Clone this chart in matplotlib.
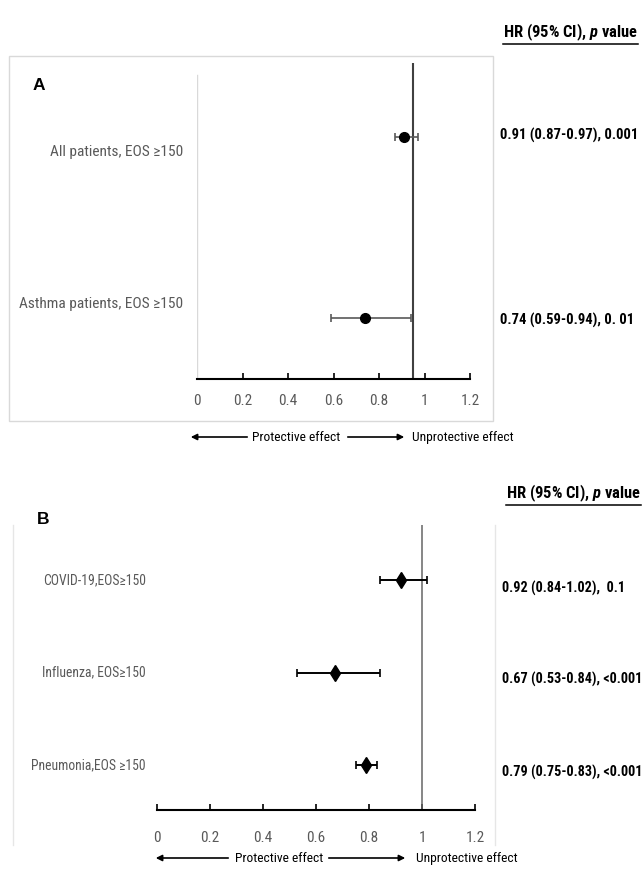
import matplotlib
matplotlib.use("Agg")
import matplotlib.pyplot as plt
from matplotlib import font_manager
from matplotlib.patches import Rectangle, FancyArrowPatch
from matplotlib.lines import Line2D

# panel A data
a_labels = ["All patients, EOS \u2265150", "Asthma patients, EOS \u2265150"]
a_hr = [0.91, 0.74]
a_lo = [0.87, 0.59]
a_hi = [0.97, 0.94]
a_text = ["0.91 (0.87-0.97), 0.001", "0.74 (0.59-0.94), 0. 01"]
a_ref = 0.95

# panel B data
b_labels = ["COVID-19,EOS\u2265150", "Influenza, EOS\u2265150", "Pneumonia,EOS \u2265150"]
b_hr = [0.92, 0.67, 0.79]
b_lo = [0.84, 0.53, 0.75]
b_hi = [1.02, 0.84, 0.83]
b_text = ["0.92 (0.84-1.02),  0.1", "0.67 (0.53-0.84), <0.001", "0.79 (0.75-0.83), <0.001"]
b_ref = 1.0

x_ticks = [0, 0.2, 0.4, 0.6, 0.8, 1.0, 1.2]
x_ticklabels = ["0", "0.2", "0.4", "0.6", "0.8", "1", "1.2"]
header = "HR (95% CI), $p$ value"

W, H = 643, 871
fig = plt.figure(figsize=(W / 100, H / 100), dpi=100)
renderer = fig.canvas.get_renderer()

# the reference uses a narrow (Calibri-like) face: take the narrowest one installed
names = {f.name for f in font_manager.fontManager.ttflist}
candidates = ["Liberation Sans Narrow", "Carlito", "Roboto Condensed", "Noto Sans Condensed",
              "Lato", "Liberation Sans", "Roboto", "Noto Sans", "DejaVu Sans"]
best, best_w = "DejaVu Sans", 1e9
for c in candidates:
    if c not in names:
        continue
    t = fig.text(0, 0, "0.91 (0.87-0.97), Protective effect", fontsize=10, family=c)
    w = t.get_window_extent(renderer).width
    t.remove()
    if w < best_w:
        best, best_w = c, w
FAM = [best, "DejaVu Sans"]

plt.rcParams["mathtext.fontset"] = "custom"
plt.rcParams["mathtext.it"] = best + ":italic:bold"
plt.rcParams["mathtext.rm"] = best + ":bold"


def fx(x):
    return x / W


def fy(y):
    return 1 - y / H


def add_ax(x0, x1, y0, y1):
    return fig.add_axes([fx(x0), fy(y1), (x1 - x0) / W, (y1 - y0) / H])


def fit_size(strings, widths, size, how="mean", **kw):
    # one font size for a group of texts, from the widths seen in the reference
    ratios = []
    for s, w in zip(strings, widths):
        t = fig.text(0, 0, s, fontsize=size, family=FAM, **kw)
        ratios.append(w / t.get_window_extent(renderer).width)
        t.remove()
    if how == "min":
        r = min(ratios)
    elif how == "max":
        r = max(ratios)
    else:
        r = sum(ratios) / len(ratios)
    return size * min(r, 1.2)


def put(x, y, s, size, ha="left", **kw):
    return fig.text(fx(x), fy(y), s, fontsize=size, ha=ha, va="center", family=FAM, **kw)


def arrow(x0, x1, y):
    fig.add_artist(FancyArrowPatch((fx(x0), fy(y)), (fx(x1), fy(y)), transform=fig.transFigure,
                                   arrowstyle="-|>", mutation_scale=9, lw=1.2, color="black"))


hdr_size = fit_size([header], [135], 12.5, fontweight="bold")


def underlined_header(x, y):
    t = put(x, y, header, hdr_size, fontweight="bold")
    bb = t.get_window_extent(renderer)
    fig.add_artist(Line2D([bb.x0 / W, bb.x1 / W], [(bb.y0 - 1) / H] * 2,
                          transform=fig.transFigure, color="black", lw=1.1))


def style_axis(ax, pad):
    for s in ["top", "right", "left"]:
        ax.spines[s].set_visible(False)
    ax.spines["bottom"].set_linewidth(1.5)
    ax.set_xlim(0, 1.2)
    ax.set_xticks(x_ticks, labels=x_ticklabels)
    ax.set_yticks([])
    ax.tick_params(axis="x", direction="in", length=4.5, width=1.2, pad=pad,
                   labelsize=11, labelcolor="#595959")
    for lab in ax.get_xticklabels():
        lab.set_family(FAM)
    ax.patch.set_alpha(0)


arrow_size = fit_size(["Protective effect", "Unprotective effect"] * 2, [91, 103, 85, 101], 11)

# ---------------- panel A ----------------
fig.add_artist(Rectangle((fx(9), fy(421)), (493 - 9) / W, (421 - 56) / H, transform=fig.transFigure,
                         fill=False, ec="#d9d9d9", lw=1.0))
a_rows = [2, 1]
a_ppu = 318 - 137
axA = add_ax(197, 470, 63, 379)
axA.set_ylim(1 - (379 - 318) / a_ppu, 2 + (137 - 63) / a_ppu)
style_axis(axA, 11)
axA.xaxis.get_major_ticks()[0].tick1line.set_visible(False)
axA.axvline(0, ymax=(379 - 75) / (379 - 63), color="#d9d9d9", lw=1.0)
axA.axvline(a_ref, color="#404040", lw=1.5)
err_lo = [h - l for h, l in zip(a_hr, a_lo)]
err_hi = [u - h for h, u in zip(a_hr, a_hi)]
axA.errorbar(a_hr, a_rows, xerr=[err_lo, err_hi], fmt="o", color="black", ms=7,
             ecolor="#595959", elinewidth=1.2, capsize=2.8, capthick=1.2)

fig.text(fx(39), fy(85), "A", fontsize=12.5, fontweight="bold", family="Liberation Sans",
         ha="center", va="center")
sz = fit_size(a_labels, [133, 164], 11)
for lab, y in zip(a_labels, [152, 304]):
    put(183, y, lab, sz, ha="right", color="#595959")
sz = fit_size(a_text, [137, 134], 12, fontweight="bold")
for txt, y in zip(a_text, [135, 320]):
    put(500, y, txt, sz, fontweight="bold")
underlined_header(503, 32)

arrow(250, 188, 437)
put(252, 437, "Protective effect", arrow_size)
arrow(345, 407, 437)
put(412, 437, "Unprotective effect", arrow_size)

# ---------------- panel B ----------------
for x in [13, 495]:
    fig.add_artist(Line2D([fx(x), fx(x)], [fy(525), fy(845)], transform=fig.transFigure,
                          color="#e6e6e6", lw=1.0))
b_rows = [3, 2, 1]
b_ppu = (765 - 580) / 2
axB = add_ax(157, 475, 525, 810)
axB.set_ylim(1 - (810 - 765) / b_ppu, 3 + (580 - 525) / b_ppu)
style_axis(axB, 15)
axB.axvline(b_ref, color="#666666", lw=1.1)
err_lo = [h - l for h, l in zip(b_hr, b_lo)]
err_hi = [u - h for h, u in zip(b_hr, b_hi)]
axB.errorbar(b_hr, b_rows, xerr=[err_lo, err_hi], fmt="d", color="black", ms=8,
             ecolor="black", elinewidth=1.4, capsize=3, capthick=1.2)

fig.text(fx(43), fy(519), "B", fontsize=12.5, fontweight="bold", family="Liberation Sans",
         ha="center", va="center")
sz = fit_size(b_labels, [102, 99, 110], 11, how="max")
for lab, y in zip(b_labels, [580, 672, 765]):
    put(146, y, lab, sz, ha="right", color="#595959")
sz = fit_size(b_text, [123, 139, 139], 12, how="min", fontweight="bold")
for txt, y in zip(b_text, [588, 679, 772]):
    put(502, y, txt, sz, fontweight="bold")
underlined_header(506, 493)

arrow(231, 153, 858)
put(235, 858, "Protective effect", arrow_size)
arrow(326, 408, 858)
put(416, 858, "Unprotective effect", arrow_size)

fig.savefig("out.png", dpi=100, facecolor="white")
